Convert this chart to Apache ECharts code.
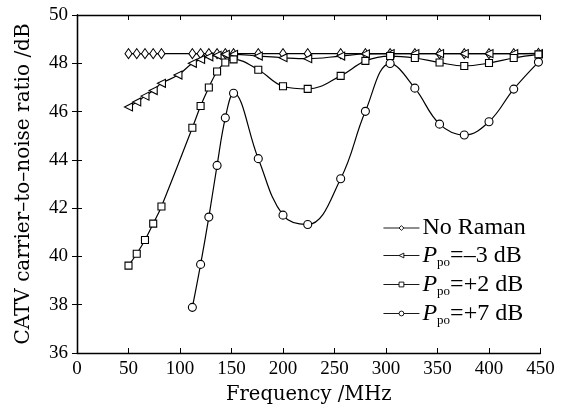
<!DOCTYPE html>
<html>
<head>
<meta charset="utf-8">
<script src="https://cdn.jsdelivr.net/npm/echarts@6/dist/echarts.min.js"></script>
<style>html,body{margin:0;padding:0;background:#fff}#c{width:569px;height:410px}</style>
</head>
<body>
<div id="c"></div>
<script>
// ---- data ----
const xTickValues = [0, 50, 100, 150, 200, 250, 300, 350, 400, 450];
const yTickValues = [36, 38, 40, 42, 44, 46, 48, 50];

const freqNoRaman = [50, 58, 66, 74, 82, 112, 120, 128, 136, 144, 152, 176, 200, 224, 256, 280, 304, 328, 352, 376, 400, 424, 448];
const cnrNoRaman  = [48.4, 48.4, 48.4, 48.4, 48.4, 48.4, 48.4, 48.4, 48.4, 48.4, 48.4, 48.4, 48.4, 48.4, 48.4, 48.4, 48.4, 48.4, 48.4, 48.4, 48.4, 48.4, 48.41];

const freqM3 = [50, 58, 66, 74, 82, 98, 112, 120, 128, 136, 144, 152, 176, 200, 224, 256, 280, 304, 328, 352, 376, 400, 424, 448];
const cnrM3  = [46.19, 46.40, 46.64, 46.87, 47.17, 47.51, 48.0, 48.16, 48.27, 48.33, 48.37, 48.37, 48.30, 48.23, 48.19, 48.30, 48.39, 48.4, 48.4, 48.4, 48.4, 48.4, 48.4, 48.4];

const freqP2 = [50, 58, 66, 74, 82, 112, 120, 128, 136, 144, 152, 176, 200, 224, 256, 280, 304, 328, 352, 376, 400, 424, 448];
const cnrP2  = [39.62, 40.11, 40.68, 41.36, 42.07, 45.33, 46.23, 47.0, 47.66, 48.03, 48.16, 47.73, 47.05, 46.94, 47.48, 48.1, 48.30, 48.22, 48.03, 47.89, 48.01, 48.22, 48.37];

const freqP7 = [112, 120, 128, 136, 144, 152, 176, 200, 224, 256, 280, 304, 328, 352, 376, 400, 424, 448];
const cnrP7  = [37.89, 39.67, 41.63, 43.77, 45.74, 46.76, 44.05, 41.71, 41.32, 43.22, 46.01, 47.99, 46.97, 45.48, 45.03, 45.58, 46.93, 48.05];

const seriesNames = ['No Raman', 'Ppo=–3 dB', 'Ppo=+2 dB', 'Ppo=+7 dB'];
const legendLabels = ['No Raman', '{p|P}{s|po}{t|=–3 dB}', '{p|P}{s|po}{t|=+2 dB}', '{p|P}{s|po}{t|=+7 dB}'];

const xTitle = 'Frequency /MHz';
const yTitle = 'CATV carrier–to–noise ratio /dB';

function pairs(xs, ys) { return xs.map((x, i) => [x, ys[i]]); }

const serif = 'Liberation Serif';
const titleFont = 'DejaVu Serif';

const tickFont = { fontFamily: serif, fontSize: 19, color: '#000' };
const axisLine = { lineStyle: { color: '#000', width: 1.3 } };

function mkSeries(name, data, symbol, rotate, size) {
  return {
    name: name, type: 'line', data: data,
    xAxisIndex: 0, yAxisIndex: 0,
    smooth: 0.4,
    symbol: symbol, symbolSize: size, symbolRotate: rotate,
    showAllSymbol: true,
    lineStyle: { color: '#000', width: 1.2 },
    itemStyle: { color: '#fff', borderColor: '#000', borderWidth: 1.1 },
    emphasis: { disabled: true },
    animation: false
  };
}

const chart = echarts.init(document.getElementById('c'), null, { renderer: 'canvas' });
chart.setOption({
  animation: false,
  backgroundColor: '#fff',
  grid: { left: 77, right: 28.5, top: 15, bottom: 53, containLabel: false },
  xAxis: [
    {
      type: 'value', min: xTickValues[0], max: xTickValues[xTickValues.length - 1],
      interval: xTickValues[1] - xTickValues[0],
      name: xTitle, nameLocation: 'middle', nameGap: 32,
      nameTextStyle: { fontFamily: titleFont, fontSize: 19.5, color: '#000' },
      axisLine: axisLine,
      axisTick: { inside: true, length: 5, lineStyle: { color: '#000', width: 1 } },
      axisLabel: Object.assign({ margin: 7 }, tickFont),
      splitLine: { show: false }
    },
    {
      type: 'value', position: 'top', min: xTickValues[0], max: xTickValues[xTickValues.length - 1],
      interval: xTickValues[1] - xTickValues[0],
      axisLine: axisLine,
      axisTick: { inside: true, length: 5, lineStyle: { color: '#000', width: 1 } },
      axisLabel: { show: false }, splitLine: { show: false }
    }
  ],
  yAxis: [
    {
      type: 'value', min: yTickValues[0], max: yTickValues[yTickValues.length - 1],
      interval: yTickValues[1] - yTickValues[0],
      name: yTitle, nameLocation: 'middle', nameGap: 43,
      nameTextStyle: { fontFamily: titleFont, fontSize: 20, color: '#000' },
      axisLine: axisLine,
      axisTick: { inside: true, length: 5, lineStyle: { color: '#000', width: 1 } },
      axisLabel: Object.assign({ margin: 9 }, tickFont),
      splitLine: { show: false }
    },
    {
      type: 'value', position: 'right', min: yTickValues[0], max: yTickValues[yTickValues.length - 1],
      interval: yTickValues[1] - yTickValues[0],
      axisLine: axisLine,
      axisTick: { inside: true, length: 5, lineStyle: { color: '#000', width: 1 } },
      axisLabel: { show: false }, splitLine: { show: false }
    }
  ],
  legend: {
    orient: 'vertical', left: 378, top: 211,
    itemWidth: 36, itemHeight: 6, itemGap: 2,
    selectedMode: false,
    data: seriesNames,
    itemStyle: { borderWidth: 0.9 },
    lineStyle: { width: 0.9 },
    formatter: function (name) { return legendLabels[seriesNames.indexOf(name)]; },
    textStyle: {
      fontFamily: serif, fontSize: 24, color: '#000', lineHeight: 23, padding: [0, 0, 0, -2],
      rich: {
        p: { fontFamily: serif, fontStyle: 'italic', fontSize: 24, lineHeight: 23 },
        s: { fontFamily: serif, fontSize: 13, lineHeight: 13, padding: [14, 0, 0, 0] },
        t: { fontFamily: serif, fontSize: 24, lineHeight: 23 }
      }
    }
  },
  series: [
    mkSeries(seriesNames[0], pairs(freqNoRaman, cnrNoRaman), 'diamond', 0, [7, 10]),
    mkSeries(seriesNames[1], pairs(freqM3, cnrM3), 'triangle', 90, 8),
    mkSeries(seriesNames[2], pairs(freqP2, cnrP2), 'rect', 0, 7),
    mkSeries(seriesNames[3], pairs(freqP7, cnrP7), 'circle', 0, 8)
  ]
});
</script>
</body>
</html>
